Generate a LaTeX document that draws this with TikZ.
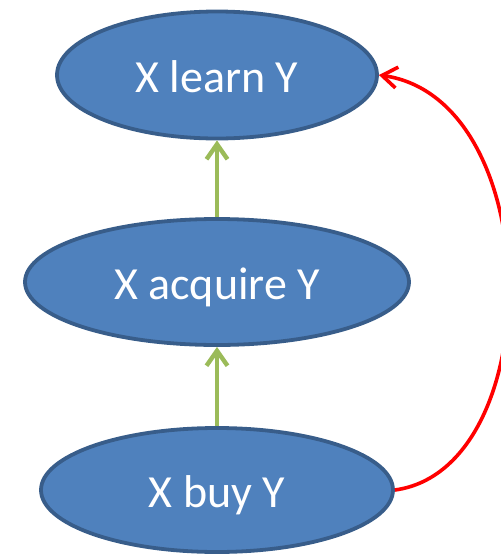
\documentclass[tikz,border=0pt]{standalone}
\usepackage{fontspec}
\setmainfont{Carlito}
\usetikzlibrary{shapes.geometric,arrows.meta}
\definecolor{ovalfill}{HTML}{4F81BD}
\definecolor{ovalline}{HTML}{385D8A}
\definecolor{stepgreen}{HTML}{9BBB59}
\definecolor{skipred}{HTML}{FF0000}
\tikzset{
  oval/.style={ellipse, fill=ovalfill, draw=ovalline, line width=3.8pt,
    inner sep=0pt, text=white, font=\fontsize{46}{50}\selectfont,
    text height=35pt, text depth=0pt},
  uparrow/.style={draw=stepgreen, line width=4.4pt,
    -{Straight Barb[length=15pt,width=21pt]}},
  skiparrow/.style={draw=skipred, line width=3.6pt,
    -{Straight Barb[length=15pt,width=21pt]}}
}
\begin{document}
\begin{tikzpicture}[x=1pt,y=-1pt]
  \useasboundingbox (0,0) rectangle (501,555);
  \node[oval, minimum width=320pt, minimum height=127pt] (learn) at (217,75) {X learn Y};
  \node[oval, minimum width=384pt, minimum height=126pt] (acquire) at (217,282) {X acquire Y};
  \node[oval, minimum width=352pt, minimum height=124pt] (buy) at (217,490) {X buy Y};
  \draw[uparrow] (acquire.north) -- (learn.south);
  \draw[uparrow] (buy.north) -- (acquire.south);
  \draw[skiparrow] (buy.east) .. controls +(154,-21) and +(169,24) .. (learn.east);
\end{tikzpicture}
\end{document}
